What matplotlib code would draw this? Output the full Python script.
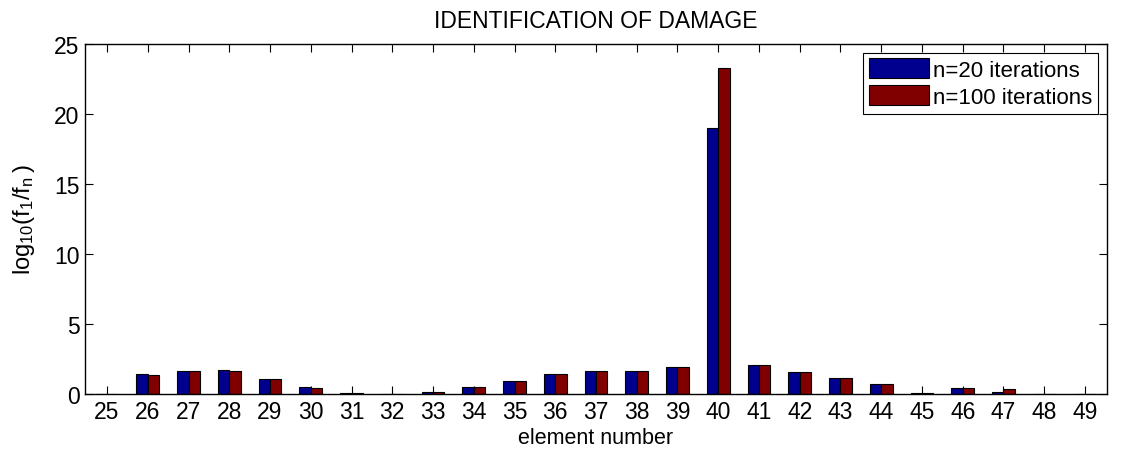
import matplotlib.pyplot as plt
import numpy as np

plt.rcParams['font.family'] = ['Liberation Sans', 'DejaVu Sans']

elements = list(range(25, 50))
n20 = [0.02, 1.40, 1.62, 1.72, 1.05, 0.47, 0.05, 0.02, 0.14, 0.52, 0.93, 1.43, 1.62,
       1.62, 1.96, 19.0, 2.06, 1.58, 1.12, 0.69, 0.05, 0.40, 0.16, 0.02, 0.02]
n100 = [0.02, 1.38, 1.62, 1.67, 1.05, 0.45, 0.05, 0.02, 0.12, 0.52, 0.93, 1.43, 1.62,
        1.62, 1.96, 23.3, 2.06, 1.58, 1.12, 0.69, 0.05, 0.40, 0.38, 0.02, 0.02]

x = np.array(elements)
w = 0.28

fig = plt.figure(figsize=(11.28, 4.56), dpi=100)
ax = fig.add_axes([85 / 1128, 61 / 456, 1022 / 1128, 350 / 456])

ax.bar(x - w / 2, n20, w, color='#00008f', edgecolor='black', linewidth=0.8,
       label='n=20 iterations', zorder=2)
ax.bar(x + w / 2, n100, w, color='#800000', edgecolor='black', linewidth=0.8,
       label='n=100 iterations', zorder=2)

ax.set_xlim(24.46, 49.54)
ax.set_ylim(0, 25)
ax.set_xticks(elements)
ax.set_yticks([0, 5, 10, 15, 20, 25])
ax.tick_params(direction='in', top=True, right=True, length=6, labelsize=16.5,
               width=0.8, pad=4)
for s in ax.spines.values():
    s.set_linewidth(1.0)

ax.set_title('IDENTIFICATION OF DAMAGE', fontsize=16.5, pad=12)
ax.set_xlabel('element number', fontsize=15.5, labelpad=3)
ax.set_ylabel(r'$\mathregular{log_{10}(f_1/f_n\,)}$', fontsize=17, labelpad=12)

leg = ax.legend(loc='upper right', fontsize=16, fancybox=False, framealpha=1,
                edgecolor='black', handlelength=2.7, handleheight=1.0,
                borderaxespad=0.4, borderpad=0.25, labelspacing=0.2,
                handletextpad=0.2)
leg.get_frame().set_linewidth(0.8)

fig.savefig('out.png')
